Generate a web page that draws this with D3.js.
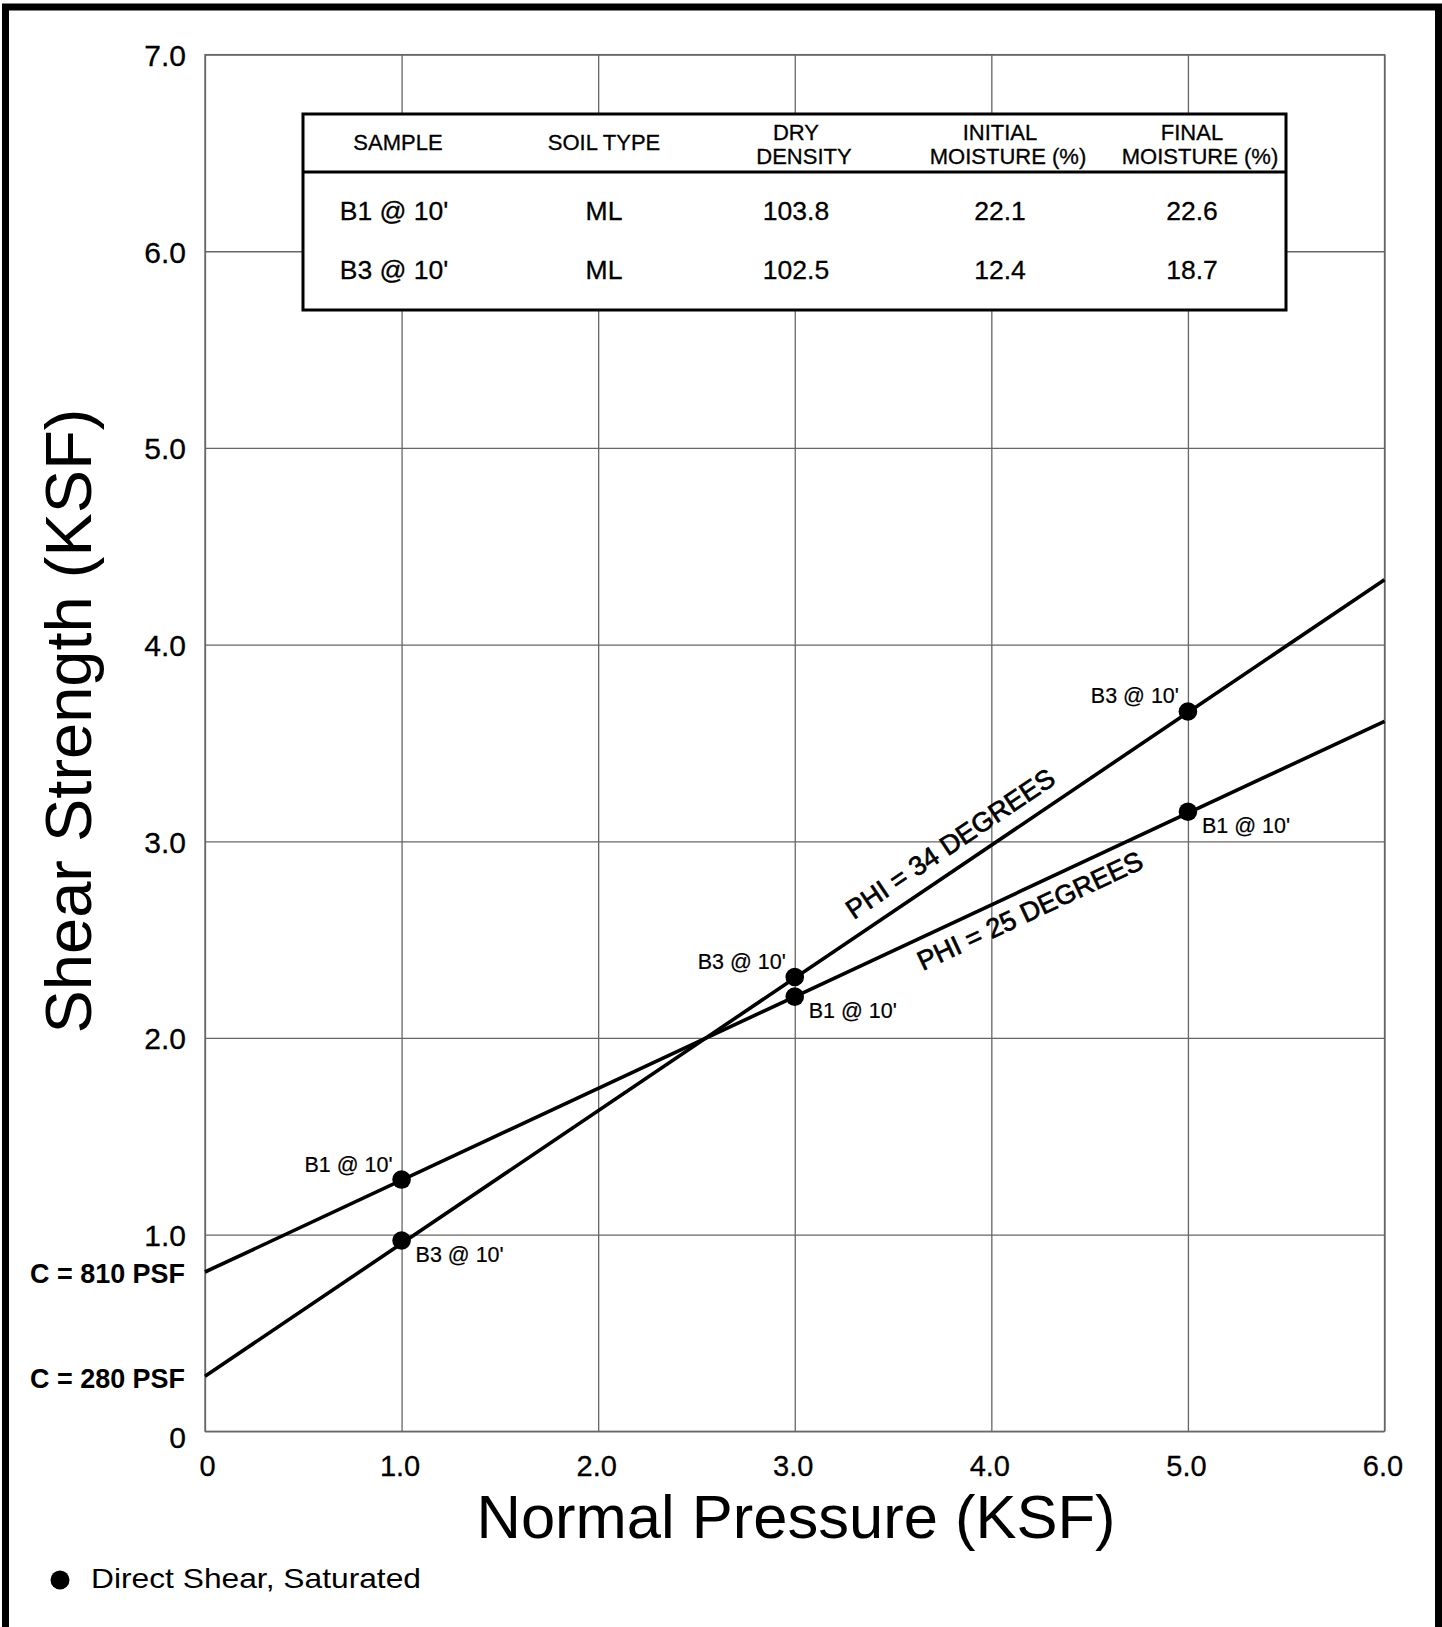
<!DOCTYPE html>
<html>
<head>
<meta charset="utf-8">
<script src="https://cdn.jsdelivr.net/npm/d3@7"></script>
<style>
  html, body { margin: 0; padding: 0; background: #fff; }
  svg { display: block; font-family: "Liberation Sans", Arial, sans-serif; }
</style>
</head>
<body>
<div id="chart"></div>
<script>
// direct shear test points (normal pressure ksf -> shear strength ksf)
const pressures = [1.0, 3.0, 5.0];
const b1Strength = [1.28, 2.21, 3.15];
const b3Strength = [0.97, 2.31, 3.66];

// failure envelopes, read at x = 0 and x = 6.0
const envelopeX = [0, 6.0];
const b1Envelope = [0.81, 3.61];
const b3Envelope = [0.28, 4.33];

const cohesionLabels = ["C = 810 PSF", "C = 280 PSF"];
const phiLabels = ["PHI = 25 DEGREES", "PHI = 34 DEGREES"];
const sampleNames = ["B1 @ 10'", "B3 @ 10'"];

const xTicks = [0, 1, 2, 3, 4, 5, 6];
const yTicks = [0, 1, 2, 3, 4, 5, 6, 7];

// table
const tableHeaders = [["SAMPLE"], ["SOIL TYPE"], ["DRY", "DENSITY"], ["INITIAL", "MOISTURE (%)"], ["FINAL", "MOISTURE (%)"]];
const soilTypes = ["ML", "ML"];
const dryDensity = ["103.8", "102.5"];
const initialMoisture = ["22.1", "12.4"];
const finalMoisture = ["22.6", "18.7"];

const legendLabel = "Direct Shear, Saturated";

const width = 1442;
const height = 1627;
const plot = { left: 205, right: 1384.5, top: 54.6, bottom: 1431.3 };

const svg = d3.select("#chart").append("svg").attr("width", width).attr("height", height);

// outer frame (left, top, right)
svg.append("path").attr("d", `M5.5,${height} V7 H1438.5 V${height}`).attr("fill", "none").attr("stroke", "#000").attr("stroke-width", 7);

const xScale = d3.scaleLinear().domain([0, 6]).range([plot.left, plot.right]);
const yScale = d3.scaleLinear().domain([0, 7]).range([plot.bottom, plot.top]);
const fmt = d => d === 0 ? "0" : d3.format(".1f")(d);

// grid + axes
const yAxis = d3.axisLeft(yScale).tickValues(yTicks).tickFormat(fmt).tickSize(-(plot.right - plot.left)).tickPadding(19);
const xAxis = d3.axisBottom(xScale).tickValues(xTicks).tickFormat(fmt).tickSize(-(plot.bottom - plot.top)).tickPadding(24);

const gy = svg.append("g").attr("transform", `translate(${plot.left},0)`).call(yAxis);
const gx = svg.append("g").attr("transform", `translate(0,${plot.bottom})`).call(xAxis);
[gx, gy].forEach(g => {
    g.attr("font-family", null);
    g.select(".domain").remove();
    g.selectAll(".tick line").attr("stroke", "#666").attr("stroke-width", 1.3);
    g.selectAll(".tick text").attr("fill", "#000").attr("stroke", "#000").attr("stroke-width", 0.3);
});
gy.selectAll(".tick text").attr("font-size", 30).attr("dy", d => d === 0 ? "0.55em" : "0.36em");
gx.selectAll(".tick text").attr("font-size", 29).attr("dx", d => d === 0 ? 2 : -2);

svg.append("rect").attr("x", plot.left).attr("y", plot.top).attr("width", plot.right - plot.left).attr("height", plot.bottom - plot.top)
    .attr("fill", "none").attr("stroke", "#666").attr("stroke-width", 1.3);

// axis titles
svg.append("text").attr("x", 796).attr("y", 1538).attr("text-anchor", "middle").attr("font-size", 61.5).text("Normal Pressure (KSF)");
svg.append("text").attr("transform", "rotate(-90)").attr("x", -721).attr("y", 91).attr("text-anchor", "middle").attr("font-size", 65).text("Shear Strength (KSF)");

// table
const table = { left: 303, right: 1286, top: 114, mid: 172, bottom: 310 };
const colX = [398, 604, 796, 1000, 1192];
svg.append("rect").attr("x", table.left).attr("y", table.top).attr("width", table.right - table.left).attr("height", table.bottom - table.top)
    .attr("fill", "#fff").attr("stroke", "#000").attr("stroke-width", 3);
svg.append("line").attr("x1", table.left).attr("x2", table.right).attr("y1", table.mid).attr("y2", table.mid).attr("stroke", "#000").attr("stroke-width", 3);

const tableText = svg.append("g").attr("fill", "#000").attr("stroke", "#000").attr("stroke-width", 0.3);
tableHeaders.forEach((lines, i) => {
    const baselines = lines.length === 1 ? [149.5] : [140, 163.5];
    lines.forEach((t, j) => {
        tableText.append("text").attr("x", colX[i] + (j === 1 ? 8 : 0)).attr("y", baselines[j]).attr("text-anchor", "middle").attr("font-size", 22).text(t);
    });
});
const rowBaselines = [220, 278.5];
sampleNames.forEach((name, r) => {
    const cells = [name, soilTypes[r], dryDensity[r], initialMoisture[r], finalMoisture[r]];
    cells.forEach((c, i) => {
        tableText.append("text").attr("x", colX[i] - (i === 0 ? 4 : 0)).attr("y", rowBaselines[r]).attr("text-anchor", "middle").attr("font-size", 26.5).text(c);
    });
});

// envelopes
const line = d3.line().x(d => xScale(d[0])).y(d => yScale(d[1]));
const envelopes = [b1Envelope, b3Envelope];
envelopes.forEach(env => {
    svg.append("path").datum(envelopeX.map((x, i) => [x, env[i]])).attr("fill", "none").attr("stroke", "#000").attr("stroke-width", 3.6).attr("d", line);
});

// cohesion labels
svg.selectAll("text.coh").data(envelopes).enter().append("text").attr("class", "coh")
    .attr("x", 185).attr("y", d => yScale(d[0]) + 11.5)
    .attr("text-anchor", "end").attr("font-size", 28).attr("font-weight", "bold")
    .attr("textLength", 155).attr("lengthAdjust", "spacingAndGlyphs")
    .text((d, i) => cohesionLabels[i]);

// phi labels along the lines
const phiPos = [4.15, 3.86];
const phiOffset = [31, -15];
envelopes.forEach((env, i) => {
    const px = xScale(phiPos[i]);
    const py = yScale(env[0] + (env[1] - env[0]) * (phiPos[i] - envelopeX[0]) / (envelopeX[1] - envelopeX[0]));
    const ang = Math.atan2(yScale(env[1]) - yScale(env[0]), xScale(envelopeX[1]) - xScale(envelopeX[0])) * 180 / Math.PI;
    svg.append("text").attr("transform", `translate(${px},${py}) rotate(${ang})`)
        .attr("text-anchor", "middle").attr("dy", phiOffset[i]).attr("font-size", 27)
        .attr("stroke", "#000").attr("stroke-width", 0.7).text(phiLabels[i]);
});

// test points and their labels
const pointSets = [b1Strength, b3Strength];
pointSets.forEach((vals, s) => {
    const pts = pressures.map((p, i) => ({ p, v: vals[i], above: (s === 0 && p === 1) || (s === 1 && p !== 1) }));
    svg.selectAll(null).data(pts).enter().append("circle")
        .attr("cx", d => xScale(d.p)).attr("cy", d => yScale(d.v)).attr("r", 9.3).attr("fill", "#000");
    svg.selectAll(null).data(pts).enter().append("text")
        .attr("x", d => xScale(d.p) + (d.above ? -9 : 14))
        .attr("y", d => yScale(d.v) + (d.above ? -8 : 21))
        .attr("text-anchor", d => d.above ? "end" : "start")
        .attr("font-size", 21.5).attr("stroke", "#000").attr("stroke-width", 0.2).text(sampleNames[s]);
});

// legend
svg.append("circle").attr("cx", 60).attr("cy", 1580).attr("r", 9.5).attr("fill", "#000");
svg.append("text").attr("x", 91).attr("y", 1588).attr("font-size", 28).attr("textLength", 330).attr("lengthAdjust", "spacingAndGlyphs").text(legendLabel);
</script>
</body>
</html>
